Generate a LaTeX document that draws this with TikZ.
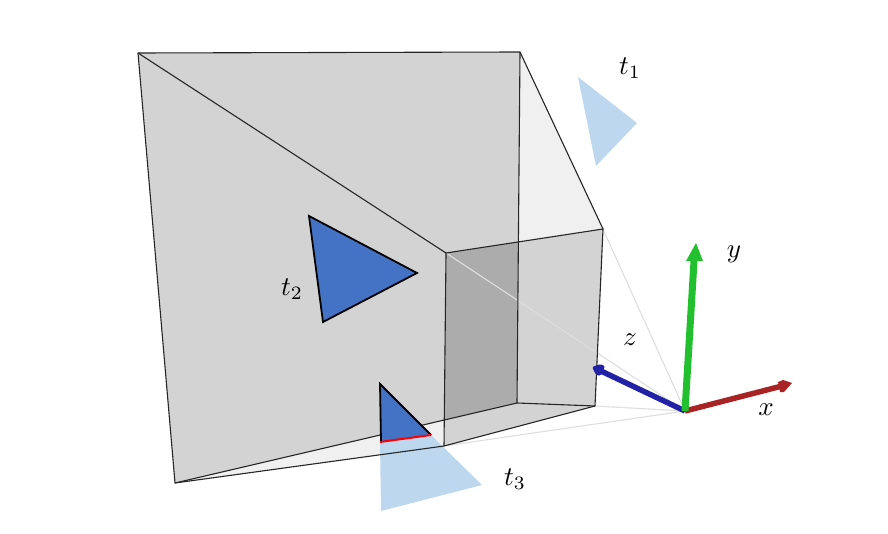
\documentclass[tikz,border=0pt]{standalone}
\usetikzlibrary{arrows.meta}
\definecolor{facegrey}{HTML}{D3D3D3}
\definecolor{overlapgrey}{HTML}{ACACAC}
\definecolor{wedge}{HTML}{F0F0F0}
\definecolor{ray}{HTML}{DEDEDE}
\definecolor{pale}{HTML}{BDD7EE}
\definecolor{solidblue}{HTML}{4472C4}
\definecolor{axisx}{HTML}{A82424}
\definecolor{axisy}{HTML}{22C02E}
\definecolor{axisz}{HTML}{2222A6}
\newcommand{\biglab}[1]{\scalebox{2.7}{$#1$}}
\tikzset{
  edge/.style={draw=black!85,line width=1.1pt,line join=round},
  rayline/.style={draw=ray,line width=1.1pt},
  tri/.style={draw=black,line width=1.8pt,fill=solidblue,line join=miter},
  lab/.style={inner sep=0pt},
}
\begin{document}
\begin{tikzpicture}[x=1pt,y=-1pt]
\useasboundingbox (0,0) rectangle (888,534);
\coordinate (A) at (138,53);
\coordinate (B) at (520,52);
\coordinate (C) at (175,483);
\coordinate (D) at (517,403);
\coordinate (E) at (446,253);
\coordinate (F) at (603,229);
\coordinate (G) at (595,406);
\coordinate (H) at (444,446);
\coordinate (P) at (518,242);
\coordinate (Q) at (444,420);
\coordinate (O) at (685,411);
% wedges and faces
\fill[wedge] (B) -- (F) -- (P) -- cycle;
\fill[wedge] (C) -- (H) -- (Q) -- cycle;
% pale triangles
\fill[pale] (578,77) -- (637,123) -- (596,166) -- cycle;
\fill[pale] (380,442) -- (431,435) -- (482,485) -- (381,511) -- cycle;
\fill[facegrey] (A) -- (B) -- (D) -- (C) -- cycle;
\fill[facegrey] (E) -- (F) -- (G) -- (H) -- cycle;
\fill[overlapgrey] (E) -- (P) -- (D) -- (Q) -- cycle;
% rays
\draw[rayline] (O) -- (F);
\draw[rayline] (O) -- (G);
\draw[rayline] (O) -- (H);
\draw[rayline] (O) -- (E);
% edges
\draw[edge] (A) -- (B) -- (D) -- (C) -- cycle;
\draw[edge] (E) -- (F) -- (G) -- (H) -- cycle;
\draw[edge] (A) -- (E);
\draw[edge] (B) -- (F);
\draw[edge] (C) -- (H);
\draw[edge] (D) -- (G);
% solid triangles
\draw[tri] (309,216) -- (417,273) -- (323,322) -- cycle;
\fill[solidblue] (380,384) -- (431,435) -- (381,442) -- cycle;
\draw[black,line width=1.8pt,line join=miter] (381,442) -- (380,384) -- (431,435);
\draw[red,line width=2pt] (380,442) -- (431,435);
% axes
\coordinate (Xt) at (792,383);
\coordinate (Yt) at (696,243);
\draw[axisz,line width=5.5pt] (O) -- (601,371);
\fill[axisz,rounded corners=2pt] (592,367) -- (600,364) -- (605,366) -- (601,376) -- (596,375) -- cycle;
\draw[axisx,line width=5.5pt] (O) -- (782,386);
\fill[axisx] (Xt) -- (784,392) -- (780,392) -- (778,382) -- (783,380) -- cycle;
\draw[axisy,line width=7pt] (O) -- (694,261);
\fill[axisy] (Yt) -- (703,261) -- (686,261) -- cycle;
% labels
\node[lab] (t1) at (630,68) {\biglab{t_1}};
\node[lab] (t2) at (292,289) {\biglab{t_2}};
\node[lab] (t3) at (515,479) {\biglab{t_3}};
\node[lab] (lx) at (766,410) {\biglab{x}};
\node[lab] (ly) at (734,254) {\biglab{y}};
\node[lab] (lz) at (630,340) {\biglab{z}};
\end{tikzpicture}
\end{document}
